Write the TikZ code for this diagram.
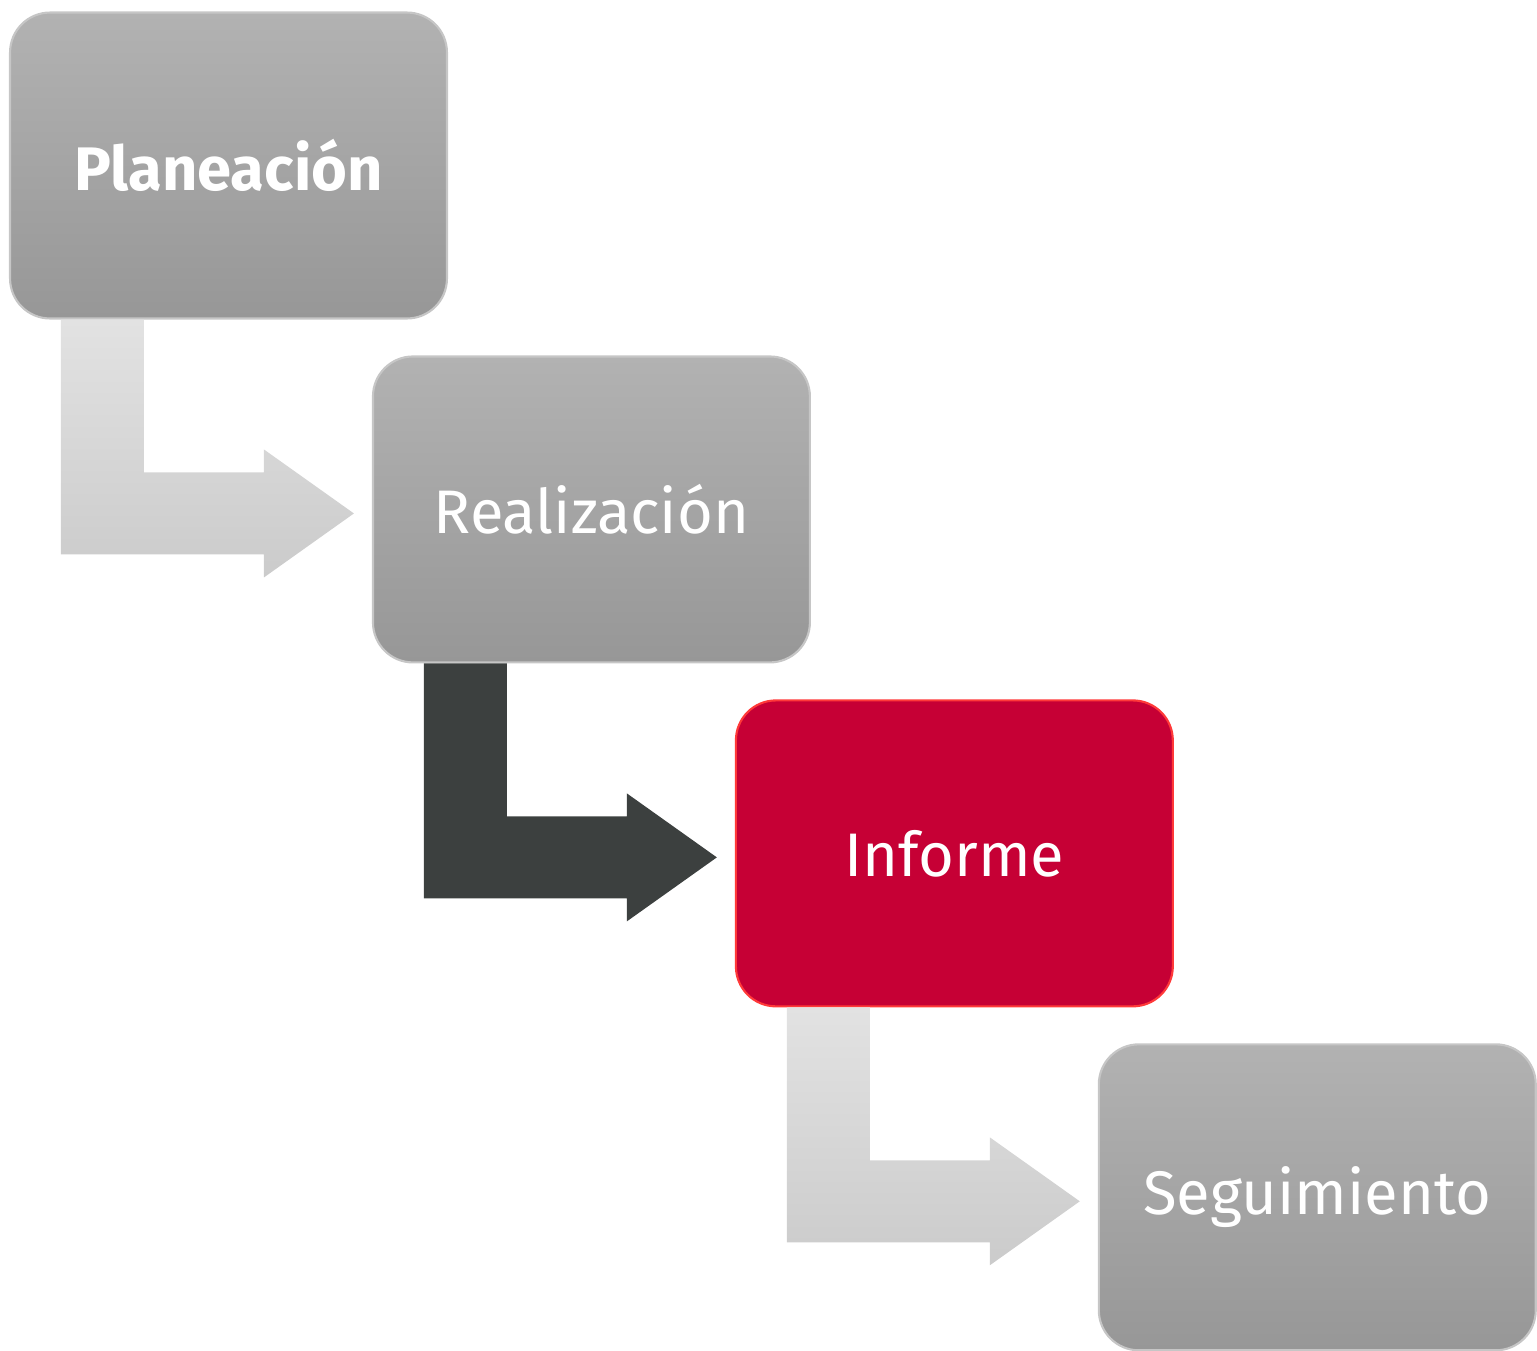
\documentclass[tikz,border=0pt]{standalone}
\usepackage{fontspec}
\setmainfont{Fira Sans}
\usetikzlibrary{positioning,calc}

\definecolor{boxTop}{HTML}{B2B2B2}
\definecolor{boxBot}{HTML}{979797}
\definecolor{redBox}{HTML}{C60035}
\definecolor{arrLight}{HTML}{E2E2E2}
\definecolor{arrLightB}{HTML}{CBCBCB}
\definecolor{arrDark}{HTML}{3C403F}

% bent arrow from the bottom of #1 to the left side of #2
\newcommand{\bentarrow}[3]{
	\coordinate (#1-a) at ($(#1.south west)+(52,0)$);
	\coordinate (#1-b) at ($(#1.south west)+(135,0)$);
	\coordinate (#1-t) at ($(#2.west)+(-18,4)$);
	\path[#3] (#1-a) -- (#1-b) -- ($(#1-b |- #1-t)+(0,-41)$)
	-- ($(#1-t)+(-90,-41)$) -- ($(#1-t)+(-90,-64)$)
	-- (#1-t)
	-- ($(#1-t)+(-90,64)$) -- ($(#1-t)+(-90,41)$)
	-- ($(#1-a |- #1-t)+(0,41)$) -- cycle;
}

\begin{document}
\begin{tikzpicture}[x=0.02cm, y=-0.02cm, node distance=6.88cm and 7.26cm, on grid]
	\tikzstyle{stepBox} = [rectangle, rounded corners=0.8cm, minimum width=8.74cm, minimum height=6.12cm, text=white, font={\fontsize{35}{40}\selectfont}, top color=boxTop, bottom color=boxBot, draw=gray!45, line width=1.2pt];
	\tikzstyle{hotBox} = [stepBox, top color=redBox, bottom color=redBox, draw=red!70!pink];
	\tikzstyle{lightArrow} = [top color=arrLight, bottom color=arrLightB];
	\tikzstyle{darkArrow} = [fill=arrDark];

	\useasboundingbox (0,0) rectangle (1537,1350);

	\node[stepBox, font={\fontsize{35}{40}\selectfont\bfseries}] (plan) at (228.5,165.5) {Planeación};
	\node[stepBox] (real) [below right=of plan] {Realización};
	\node[hotBox] (inf) [below right=of real] {Informe};
	\node[stepBox] (seg) [below right=of inf] {Seguimiento};

	\bentarrow{plan}{real}{lightArrow}
	\bentarrow{real}{inf}{darkArrow}
	\bentarrow{inf}{seg}{lightArrow}
\end{tikzpicture}
\end{document}
